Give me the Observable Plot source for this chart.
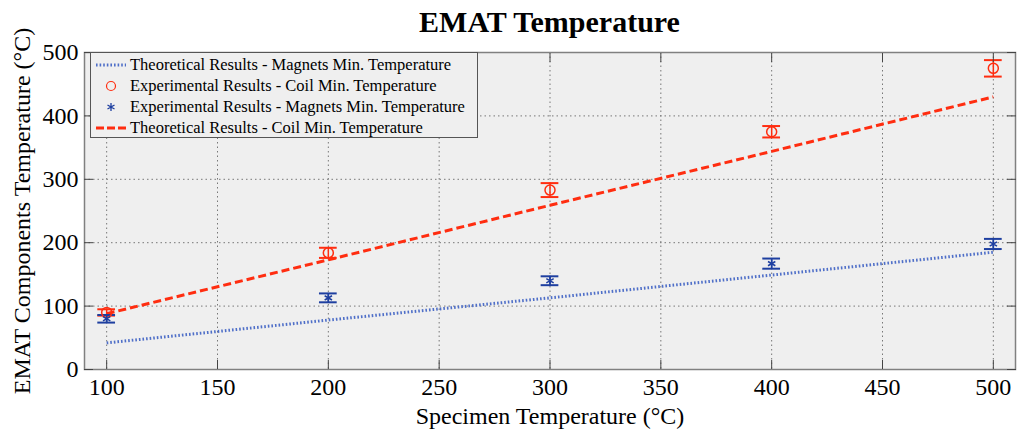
<!DOCTYPE html>
<html>
<head>
<meta charset="utf-8">
<script src="https://cdn.jsdelivr.net/npm/d3@7"></script>
<script src="https://cdn.jsdelivr.net/npm/@observablehq/plot@0.6"></script>
<style>
body{margin:0;background:#fff;font-family:"Liberation Serif",serif;}
#wrap{position:relative;width:1024px;height:442px;}
#title{height:40px;line-height:44px;font-weight:bold;font-size:30px;text-align:center;padding-left:75px;box-sizing:border-box;}
#legend{position:absolute;left:90px;top:52px;width:388px;height:86px;border:1px solid #555;background:#efefef;box-sizing:border-box;font-size:16.5px;padding-top:1px;}
.row{height:21px;display:flex;align-items:center;}
.row svg{margin-left:4px;margin-right:3px;}
#chart svg text{font-family:"Liberation Serif",serif !important;font-size:23px !important;}
#chart svg g[aria-label$="label"] text{font-size:24px !important;}
</style>
</head>
<body>
<div id="wrap">
  <div id="title">EMAT Temperature</div>
  <div id="chart"></div>
  <div id="legend"></div>
</div>
<script>
// valores
const specimen = [100, 200, 300, 400, 500]
const coilExp = [90, 184, 283, 375, 475]
const coilErr = [5, 8, 11, 9, 13]
const magExp = [80, 113, 140, 167, 198]
const magErr = [6, 7, 7, 8, 8]
const coilTheory = [88, 173, 259, 344, 430]
const magTheory = [42, 78, 113, 149, 185]
const xTicks = [100, 150, 200, 250, 300, 350, 400, 450, 500]
const yTicks = [0, 100, 200, 300, 400, 500]

const red = "#ff2d10"
const navy = "#1e3fa0"
const lightBlue = "#4f6fc8"

const coil = specimen.map((x, i) => ({x, y: coilExp[i], lo: coilExp[i] - coilErr[i], hi: coilExp[i] + coilErr[i], t: coilTheory[i]}))
const mag = specimen.map((x, i) => ({x, y: magExp[i], lo: magExp[i] - magErr[i], hi: magExp[i] + magErr[i], t: magTheory[i]}))

let chart = Plot.plot({
  width: 1024,
  height: 402,
  marginLeft: 84,
  marginRight: 9,
  marginTop: 12,
  marginBottom: 73,
  x: {domain: [90, 510]},
  y: {domain: [0, 500]},
  style: {fontFamily: "Liberation Serif", fontSize: "23px", color: "#000", background: "transparent", overflow: "visible"},
  marks: [
    Plot.frame({fill: "#efefef"}),
    Plot.gridX(xTicks, {stroke: "#777", strokeOpacity: 1, strokeDasharray: "1.5,3"}),
    Plot.gridY(yTicks, {stroke: "#777", strokeOpacity: 1, strokeDasharray: "1.5,3"}),

    // lineas teoricas
    Plot.line(mag, {x: "x", y: "t", stroke: lightBlue, strokeWidth: 3, strokeDasharray: "1.6,2", strokeLinecap: "butt"}),
    Plot.line(coil, {x: "x", y: "t", stroke: red, strokeWidth: 3, strokeDasharray: "8,4", strokeLinecap: "butt"}),

    // barras de error
    Plot.ruleX(coil, {x: "x", y1: "lo", y2: "hi", stroke: red, strokeWidth: 1.5}),
    Plot.ruleY(coil, {y: "lo", x1: d => d.x - 4, x2: d => d.x + 4, stroke: red, strokeWidth: 2}),
    Plot.ruleY(coil, {y: "hi", x1: d => d.x - 4, x2: d => d.x + 4, stroke: red, strokeWidth: 2}),
    Plot.ruleX(mag, {x: "x", y1: "lo", y2: "hi", stroke: navy, strokeWidth: 1.5}),
    Plot.ruleY(mag, {y: "lo", x1: d => d.x - 4, x2: d => d.x + 4, stroke: navy, strokeWidth: 2}),
    Plot.ruleY(mag, {y: "hi", x1: d => d.x - 4, x2: d => d.x + 4, stroke: navy, strokeWidth: 2}),

    // puntos experimentales
    Plot.dot(coil, {x: "x", y: "y", r: 5, stroke: red, fill: "none", strokeWidth: 1.5}),
    Plot.dot(mag, {x: "x", y: "y", symbol: "asterisk", r: 4, stroke: navy, strokeWidth: 1.5}),

    Plot.frame({stroke: "#808080", strokeWidth: 1.5}),

    // ticks hacia adentro
    Plot.axisX({ticks: xTicks, anchor: "bottom", tickSize: -9, tickFormat: () => "", label: null, stroke: "#444"}),
    Plot.axisX({ticks: xTicks, anchor: "top", tickSize: -9, tickFormat: () => "", label: null, stroke: "#444"}),
    Plot.axisY({ticks: yTicks, anchor: "left", tickSize: -9, tickFormat: () => "", label: null, stroke: "#444"}),
    Plot.axisY({ticks: yTicks, anchor: "right", tickSize: -9, tickFormat: () => "", label: null, stroke: "#444"}),

    Plot.axisX({
      ticks: xTicks, anchor: "bottom", tickSize: 0, tickPadding: 8,
      label: "Specimen Temperature (°C)", labelAnchor: "center", labelOffset: 54, labelArrow: "none",
    }),
    Plot.axisY({
      ticks: yTicks, anchor: "left", tickSize: 0, tickPadding: 6,
      label: "EMAT Components Temperature (°C)", labelAnchor: "center", labelOffset: 72, labelArrow: "none",
    }),
  ],
})

d3.select('#chart').append(() => chart)

// leyenda
const legendItems = [
  {label: "Theoretical Results - Magnets Min. Temperature", kind: "dotted"},
  {label: "Experimental Results - Coil Min. Temperature", kind: "circle"},
  {label: "Experimental Results - Magnets Min. Temperature", kind: "star"},
  {label: "Theoretical Results - Coil Min. Temperature", kind: "dashed"},
]
const swatch = {
  dotted: `<line x1="1" x2="31" y1="8" y2="8" stroke="${lightBlue}" stroke-width="3" stroke-dasharray="1.6,2"/>`,
  circle: `<circle cx="16" cy="8" r="4.5" fill="none" stroke="${red}" stroke-width="1.2"/>`,
  star: `<path d="M16,4V12M12.5,6L19.5,10M12.5,10L19.5,6" stroke="${navy}" stroke-width="1.3"/>`,
  dashed: `<line x1="1" x2="31" y1="8" y2="8" stroke="${red}" stroke-width="3" stroke-dasharray="8,3"/>`,
}
d3.select('#legend').selectAll('div').data(legendItems).join('div')
  .attr('class', 'row')
  .html(d => `<svg width="32" height="16">${swatch[d.kind]}</svg><span>${d.label}</span>`)
</script>
</body>
</html>
